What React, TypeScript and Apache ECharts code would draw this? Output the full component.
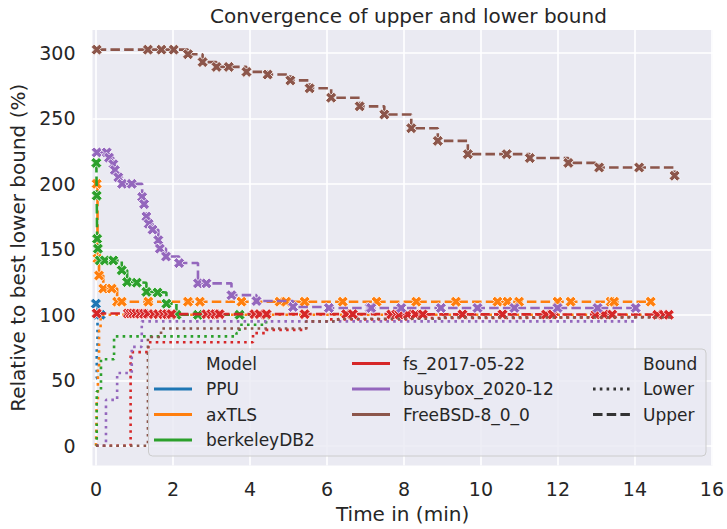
import React, { useEffect, useRef } from 'react';
import * as echarts from 'echarts';

const FONT = "'DejaVu Sans', 'Liberation Sans', sans-serif";
const TEXT = '#262626';

const X_TICKS = [0, 2, 4, 6, 8, 10, 12, 14, 16];
const Y_TICKS = [0, 50, 100, 150, 200, 250, 300];

const MODELS = ['PPU', 'axTLS', 'berkeleyDB2', 'fs_2017-05-22', 'busybox_2020-12', 'FreeBSD-8_0_0'];
const COLORS = ['#1f77b4', '#ff7f0e', '#2ca02c', '#d62728', '#9467bd', '#8c564b'];

// [time (min), value (%)]
const ppuLower = [[0, 51.5], [0.02, 75], [0.04, 100], [0.12, 100]];
const ppuUpper = [[0, 108.5], [0.04, 100], [0.12, 100]];

const axtlsLower = [[0, 0], [0.01, 10], [0.02, 35], [0.05, 60], [0.08, 88], [0.12, 100], [14.41, 100]];
const axtlsUpper = [[0.02, 200], [0.04, 143], [0.08, 130], [0.19, 120], [0.41, 120], [0.55, 110], [0.67, 110], [1.36, 110], [2.39, 110], [2.7, 110], [3.78, 110], [4.77, 110], [4.94, 110], [5.42, 110], [6.41, 110], [7.29, 110], [8.32, 110], [9.35, 110], [10.43, 110], [10.69, 110], [10.99, 110], [11.99, 110], [12.33, 110], [13.37, 110], [13.46, 110], [14.41, 110]];

const berkeleyLower = [[0, 0], [0.02, 41.5], [0.13, 66], [0.47, 83.5], [3.65, 86], [3.73, 92.4], [4.42, 100]];
const berkeleyUpper = [[0.01, 216], [0.02, 191], [0.03, 158], [0.05, 150.5], [0.1, 141.5], [0.23, 141.5], [0.45, 141.5], [0.67, 134], [0.81, 125], [1.06, 124.5], [1.31, 117.5], [1.6, 117], [1.83, 108.5], [2.09, 100], [2.65, 100], [3.73, 100], [4.42, 100]];

const fsLower = [[0, 0], [0.9, 71.5], [1.36, 79], [4.08, 86], [4.43, 88.5], [5.46, 95], [6.0, 96.5], [8.2, 97.5], [10.5, 98], [12.5, 98.5], [14.88, 99]];
const fsUpper = [[0.02, 101], [0.83, 101], [0.9, 101], [0.97, 101], [1.05, 101], [1.15, 100.8], [1.25, 100.8], [1.35, 100.8], [1.5, 100.5], [1.62, 100.5], [1.75, 100.5], [1.85, 100.5], [1.96, 100.5], [2.87, 100.5], [3.0, 100.5], [3.1, 100.5], [3.21, 100.5], [4.12, 100.5], [4.25, 100.5], [4.43, 100.5], [5.42, 100.5], [6.5, 100.5], [6.67, 100.5], [7.67, 100.3], [7.8, 100.3], [7.88, 100.3], [8.1, 100.3], [8.3, 100.3], [8.49, 100.3], [9.52, 100.3], [10.56, 100.3], [11.69, 100.2], [11.86, 100.2], [12.98, 100.2], [13.2, 100.2], [13.41, 100.2], [14.58, 100], [14.75, 100], [14.88, 100]];

const busyboxLower = [[0, 0], [0.26, 35], [0.55, 55.5], [0.93, 75.5], [1.19, 95], [14.02, 95]];
const busyboxUpper = [[0.02, 224], [0.28, 224], [0.34, 220], [0.45, 215], [0.49, 210.5], [0.58, 205], [0.68, 200], [0.93, 200], [1.2, 190], [1.25, 184.5], [1.31, 175], [1.37, 169.5], [1.47, 165], [1.62, 157], [1.66, 150.5], [1.82, 144.5], [2.16, 139.5], [2.65, 124], [2.87, 124], [3.52, 115], [4.17, 110.5], [5.12, 106], [6.05, 105.2], [7.11, 105.2], [7.15, 105.2], [7.93, 105.2], [8.96, 105.2], [9.91, 105.2], [10.87, 105.2], [11.99, 105.2], [13.03, 105.2], [14.02, 105.2]];

const freebsdLower = [[0, 0], [1.35, 83], [1.69, 89.5], [5.46, 95], [6.3, 97], [9.0, 98], [15.03, 98.5]];
const freebsdUpper = [[0.02, 302.5], [1.35, 302.5], [1.7, 302.5], [2.02, 302.5], [2.39, 299], [2.77, 293], [3.13, 289.3], [3.45, 289.3], [3.91, 285.5], [4.46, 283.5], [5.05, 279], [5.55, 273], [6.11, 265.8], [6.85, 259.2], [7.49, 253], [8.19, 242.5], [8.88, 232.8], [9.66, 222.7], [10.67, 222.7], [11.27, 219.7], [12.27, 216], [13.07, 212.5], [14.11, 212.5], [15.03, 206.2]];

const LOWERS = [ppuLower, axtlsLower, berkeleyLower, fsLower, busyboxLower, freebsdLower];
const UPPERS = [ppuUpper, axtlsUpper, berkeleyUpper, fsUpper, busyboxUpper, freebsdUpper];

const X_SYMBOL = 'path://M2.6,0 L5,2.4 L7.4,0 L10,2.6 L7.6,5 L10,7.4 L7.4,10 L5,7.6 L2.6,10 L0,7.4 L2.4,5 L0,2.6 Z';
const DOTTED = [2.6, 4.2];
const DASHED = [9.5, 4.2];
const LW = 2.6;

function buildSeries() {
  const out: any[] = [];
  MODELS.forEach((m, i) => {
    out.push({
      type: 'line', name: m + ' Lower', data: LOWERS[i], step: 'end', showSymbol: false, symbol: 'none',
      lineStyle: { color: COLORS[i], width: LW, type: DOTTED }, itemStyle: { color: COLORS[i] },
      z: 2 + i * 0.02, clip: false, silent: true,
    });
    out.push({
      type: 'line', name: m + ' Upper', data: UPPERS[i], step: 'end', showSymbol: true, showAllSymbol: true,
      symbol: X_SYMBOL, symbolSize: 11,
      lineStyle: { color: COLORS[i], width: LW, type: DASHED },
      itemStyle: { color: COLORS[i], borderColor: '#ffffff', borderWidth: 0.8 },
      z: 2.01 + i * 0.02, clip: false, silent: true,
    });
  });
  return out;
}

function buildLegend() {
  const els: any[] = [];
  const rowY = [363.5, 389, 414.5, 440];
  els.push({
    type: 'rect', shape: { x: 148.5, y: 349, width: 557.5, height: 107, r: 4 },
    style: { fill: 'rgba(234,234,242,0.8)', stroke: '#cccccc', lineWidth: 1 }, z: 100,
  });
  const txt = (x: number, y: number, s: string) => ({
    type: 'text', x, y, z: 101,
    style: { text: s, fill: TEXT, font: `17px ${FONT}`, textVerticalAlign: 'middle', verticalAlign: 'middle', textAlign: 'left' },
  });
  const ln = (x1: number, x2: number, y: number, color: string, dash?: number[]) => ({
    type: 'line', z: 101, shape: { x1, y1: y, x2, y2: y },
    style: { stroke: color, lineWidth: 3, lineDash: dash || null },
  });
  // column 1
  els.push(txt(206, rowY[0], 'Model'));
  for (let k = 0; k < 3; k++) {
    els.push(ln(154, 192, rowY[k + 1], COLORS[k]));
    els.push(txt(206, rowY[k + 1], MODELS[k]));
  }
  // column 2
  for (let k = 0; k < 3; k++) {
    els.push(ln(352, 390, rowY[k], COLORS[k + 3]));
    els.push(txt(403, rowY[k], MODELS[k + 3]));
  }
  // column 3
  els.push(txt(643, rowY[0], 'Bound'));
  els.push(ln(593, 630, rowY[1], '#333333', DOTTED));
  els.push(txt(643, rowY[1], 'Lower'));
  els.push(ln(593, 630, rowY[2], '#333333', DASHED));
  els.push(txt(643, rowY[2], 'Upper'));
  return els;
}

export default function App() {
  const ref = useRef<HTMLDivElement>(null);
  useEffect(() => {
    const chart = echarts.init(ref.current!, null, { renderer: 'svg' });
    const option: any = {
      animation: false,
      backgroundColor: '#ffffff',
      title: {
        text: 'Convergence of upper and lower bound',
        left: 403.5, textAlign: 'center', top: 1,
        textStyle: { fontFamily: FONT, fontSize: 20, fontWeight: 'normal', color: TEXT },
      },
      grid: {
        left: 92.5, top: 30, right: 13, bottom: 63.5, show: true,
        backgroundColor: '#EAEAF2', borderWidth: 0, containLabel: false,
      },
      xAxis: {
        type: 'value', min: -0.09, max: 16.02,
        name: 'Time in (min)', nameLocation: 'middle', nameGap: 38,
        nameTextStyle: { fontFamily: FONT, fontSize: 20, color: TEXT },
        axisLine: { show: false },
        axisTick: { show: false, customValues: X_TICKS },
        axisLabel: { customValues: X_TICKS, fontFamily: FONT, fontSize: 19, color: TEXT, margin: 14 },
        splitLine: { show: true, lineStyle: { color: '#ffffff', width: 1.6 } },
      },
      yAxis: {
        type: 'value', min: -15.1, max: 317.5,
        name: 'Relative to best lower bound (%)', nameLocation: 'middle', nameGap: 63, nameRotate: 90,
        nameTextStyle: { fontFamily: FONT, fontSize: 20, color: TEXT },
        axisLine: { show: false },
        axisTick: { show: false, customValues: Y_TICKS },
        axisLabel: { customValues: Y_TICKS, fontFamily: FONT, fontSize: 19, color: TEXT, margin: 17 },
        splitLine: { show: true, lineStyle: { color: '#ffffff', width: 1.6 } },
      },
      series: buildSeries(),
      graphic: buildLegend(),
    };
    chart.setOption(option);
    return () => chart.dispose();
  }, []);
  return <div ref={ref} style={{ position: 'fixed', left: 0, top: 0, width: 727, height: 529 }} />;
}
